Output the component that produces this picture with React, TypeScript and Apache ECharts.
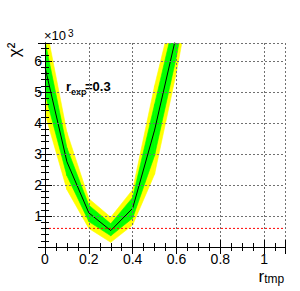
import React, { useEffect, useRef } from "react";
import * as echarts from "echarts";

const rValues = [0, 0.1, 0.2, 0.3, 0.4, 0.5, 0.6, 0.7];
const chi2 = [5800, 2750, 1100, 530, 1250, 3770, 6850, 11000];
const green1Lo = [4950, 2300, 820, 360, 930, 2950, 6150, 10000];
const green1Hi = [6650, 3200, 1350, 750, 1600, 4600, 7600, 12000];
const yellow2Lo = [4300, 1850, 600, 150, 710, 2350, 5650, 9500];
const yellow2Hi = [7300, 3700, 1560, 960, 1850, 5200, 8100, 12800];
const refLevel = 600;
const xTicks = [0, 0.2, 0.4, 0.6, 0.8, 1];
const yTicks = [1000, 2000, 3000, 4000, 5000, 6000];

const X_MIN = 0;
const X_MAX = 1.095;
const Y_MIN = 0;
const Y_MAX = 6580;

const FONT = "Liberation Sans, Arial, Helvetica, sans-serif";

export default function App() {
  const ref = useRef<HTMLDivElement>(null);
  useEffect(() => {
    if (!ref.current) return;
    const chart = echarts.init(ref.current, undefined, { renderer: "svg" });
    const pairs = (ys: number[]) => rValues.map((x, i) => [x, ys[i]]);
    const segs = (lo: number[], hi: number[]) =>
      rValues.slice(0, -1).map((x, i) => [x, lo[i], hi[i], rValues[i + 1], lo[i + 1], hi[i + 1]]);

    const bandSeries = (lo: number[], hi: number[], color: string, z: number) => ({
      type: "custom",
      data: segs(lo, hi),
      clip: true,
      silent: true,
      z,
      encode: { x: [0, 3], y: [1, 2, 4, 5] },
      renderItem: (params: any, api: any) => {
        const a = api.coord([api.value(0), api.value(1)]);
        const b = api.coord([api.value(3), api.value(4)]);
        const c = api.coord([api.value(3), api.value(5)]);
        const d = api.coord([api.value(0), api.value(2)]);
        return {
          type: "polygon",
          shape: { points: [a, b, c, d] },
          style: { fill: color, stroke: color, lineWidth: 0.6 },
        };
      },
    });

    const xLabel = (v: number) => {
      const hit = xTicks.find((t) => Math.abs(t - v) < 1e-6);
      return hit === undefined ? "" : String(hit);
    };
    const yLabel = (v: number) => {
      const hit = yTicks.find((t) => Math.abs(t - v) < 1e-6);
      return hit === undefined ? "" : String(hit / 1000);
    };
    const gridLine = { show: true, lineStyle: { color: "#707070", type: [2, 2] as any, width: 1 } };
    const axisLine = { show: true, lineStyle: { color: "#000", width: 1 } };

    chart.setOption({
      animation: false,
      grid: { left: 45, right: 15, top: 43, bottom: 44, containLabel: false },
      xAxis: [
        {
          type: "value",
          min: X_MIN,
          max: X_MAX,
          interval: 0.2,
          axisLine,
          axisTick: { show: true, inside: true, length: 7, lineStyle: { color: "#000" } },
          minorTick: { show: true, splitNumber: 4, length: 4, lineStyle: { color: "#000" } },
          axisLabel: { formatter: xLabel, fontFamily: FONT, fontSize: 14, color: "#000", margin: 5, showMaxLabel: false },
          splitLine: gridLine,
          z: 10,
        },
        {
          type: "value",
          position: "top",
          min: X_MIN,
          max: X_MAX,
          interval: 0.2,
          axisLine,
          axisTick: { show: true, inside: true, length: 7, lineStyle: { color: "#000" } },
          minorTick: { show: true, splitNumber: 4, length: 4, lineStyle: { color: "#000" } },
          axisLabel: { show: false },
          splitLine: { show: false },
          z: 10,
        },
      ],
      yAxis: [
        {
          type: "value",
          min: Y_MIN,
          max: Y_MAX,
          interval: 1000,
          axisLine,
          axisTick: { show: true, inside: true, length: 7, lineStyle: { color: "#000" } },
          minorTick: { show: true, splitNumber: 5, length: 4, lineStyle: { color: "#000" } },
          axisLabel: { formatter: yLabel, fontFamily: FONT, fontSize: 14, color: "#000", margin: 3, showMaxLabel: false },
          splitLine: gridLine,
          z: 10,
        },
        {
          type: "value",
          position: "right",
          min: Y_MIN,
          max: Y_MAX,
          interval: 1000,
          axisLine,
          axisTick: { show: true, inside: true, length: 7, lineStyle: { color: "#000" } },
          minorTick: { show: true, splitNumber: 5, length: 4, lineStyle: { color: "#000" } },
          axisLabel: { show: false },
          splitLine: { show: false },
          z: 10,
        },
      ],
      series: [
        bandSeries(yellow2Lo, yellow2Hi, "#ffff00", 1),
        bandSeries(green1Lo, green1Hi, "#00ff00", 2),
        {
          type: "line",
          data: pairs(chi2),
          symbol: "none",
          lineStyle: { color: "#000", width: 1 },
          z: 3,
        },
        {
          type: "line",
          data: [
            [X_MIN, refLevel],
            [X_MAX, refLevel],
          ],
          symbol: "none",
          lineStyle: { color: "#ff0000", width: 1, type: [2, 2] as any },
          z: 4,
        },
      ],
      graphic: [
        {
          type: "text",
          x: 14,
          y: 50,
          rotation: Math.PI / 2,
          style: { text: "χ²", fontFamily: FONT, fontSize: 17, fill: "#000", align: "center", verticalAlign: "middle" },
        },
        {
          type: "text",
          x: 44,
          y: 42,
          style: { text: "×10", fontFamily: FONT, fontSize: 13, fill: "#000", align: "left", verticalAlign: "bottom" },
        },
        {
          type: "text",
          x: 68,
          y: 38,
          style: { text: "3", fontFamily: FONT, fontSize: 10, fill: "#000", align: "left", verticalAlign: "bottom" },
        },
        {
          type: "text",
          x: 66,
          y: 93,
          style: { text: "r", fontFamily: FONT, fontSize: 13, fontWeight: "bold", fill: "#000", align: "left", verticalAlign: "bottom" },
        },
        {
          type: "text",
          x: 71,
          y: 96,
          style: { text: "exp", fontFamily: FONT, fontSize: 9, fontWeight: "bold", fill: "#000", align: "left", verticalAlign: "bottom" },
        },
        {
          type: "text",
          x: 85,
          y: 93,
          style: { text: "=0.3", fontFamily: FONT, fontSize: 13, fontWeight: "bold", fill: "#000", align: "left", verticalAlign: "bottom" },
        },
        {
          type: "text",
          x: 258.5,
          y: 287,
          style: {
            text: "{r|r}{s|tmp}",
            align: "left",
            verticalAlign: "bottom",
            fill: "#000",
            rich: {
              r: { fontFamily: FONT, fontSize: 17, lineHeight: 17, padding: [0, 0, 5, 0], fill: "#000" },
              s: { fontFamily: FONT, fontSize: 12, lineHeight: 12, fill: "#000" },
            },
          },
        },
      ],
    });
    return () => chart.dispose();
  }, []);
  return (
    <div
      ref={ref}
      style={{ position: "fixed", left: 0, top: 0, width: 300, height: 291, background: "#fff" }}
    />
  );
}
